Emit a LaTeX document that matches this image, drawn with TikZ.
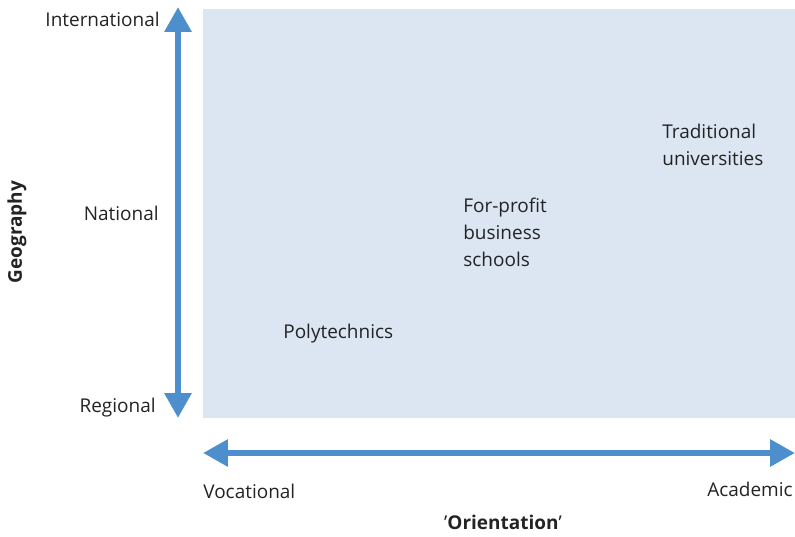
\documentclass[tikz,border=0pt]{standalone}
\usepackage{fontspec}
\setmainfont{Open Sans}
\usetikzlibrary{arrows.meta}
\definecolor{fieldColor}{RGB}{220,230,242}
\definecolor{axisColor}{RGB}{77,143,205}
\definecolor{textColor}{RGB}{35,35,35}

\begin{document}
\begin{tikzpicture}[x=0.02cm,y=-0.02cm,
  axis/.style={axisColor,line width=0.12cm,{Triangle[width=0.52cm,length=0.5cm]}-{Triangle[width=0.52cm,length=0.5cm]}},
  lbl/.style={text=textColor,font=\fontsize{10.8}{15.4}\selectfont,inner sep=0pt},
  ttl/.style={lbl,font=\fontsize{10.8}{15.4}\selectfont\bfseries}]
  \useasboundingbox (0,0) rectangle (795,537);
  \fill[fieldColor] (203,9) rectangle (795,418);
  % Axes
  \coordinate (gTop) at (178,7);
  \coordinate (gBot) at (178,418);
  \coordinate (oLeft) at (203,453);
  \coordinate (oRight) at (795,453);
  \draw[axis] (gBot) -- (gTop);
  \draw[axis] (oLeft) -- (oRight);
  % Geography
  \node[lbl,anchor=east] (intl) at (160,19) {International};
  \node[lbl,anchor=east] (natl) at (159,213) {National};
  \node[lbl,anchor=east] (regl) at (156,408) {Regional};
  \node[ttl,rotate=90] (geo) at (17,232) {Geography};
  % Orientation
  \node[lbl,anchor=west] (voc) at (203,491) {Vocational};
  \node[lbl,anchor=east] (acad) at (793,489) {Academic};
  \node[ttl] (orient) at (503,522) {\textmd{\char"27}Orientation\textmd{\char"27}};
  % Institutions
  \node[lbl,anchor=west] (poly) at (283,334) {Polytechnics};
  \node[lbl,anchor=north west,align=left] (forprofit) at (463,198) {For-profit\\business\\schools};
  \node[lbl,anchor=north west,align=left] (trad) at (662,124) {Traditional\\universities};
\end{tikzpicture}
\end{document}
